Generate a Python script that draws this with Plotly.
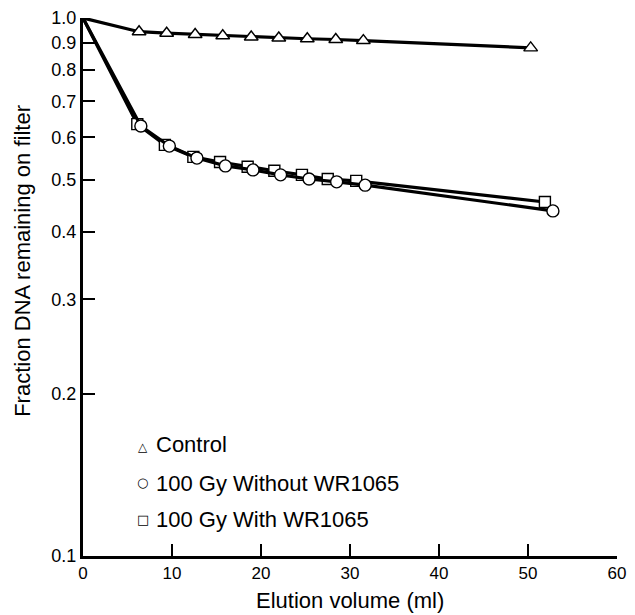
import plotly.graph_objects as go

# Elution profiles: fraction of DNA retained on the filter vs. elution volume
control_x = [0, 6.3, 9.4, 12.6, 15.7, 18.9, 22.0, 25.2, 28.4, 31.5, 50.3]
control_y = [1.0, 0.943, 0.937, 0.932, 0.927, 0.922, 0.918, 0.915, 0.912, 0.908, 0.880]

without_x = [0, 6.5, 9.7, 12.8, 16.0, 19.1, 22.2, 25.4, 28.5, 31.7, 52.8]
without_y = [1.0, 0.630, 0.578, 0.549, 0.531, 0.522, 0.511, 0.502, 0.496, 0.489, 0.438]

with_x = [0, 6.1, 9.2, 12.4, 15.4, 18.5, 21.5, 24.6, 27.5, 30.7, 51.9]
with_y = [1.0, 0.635, 0.581, 0.552, 0.540, 0.529, 0.520, 0.511, 0.502, 0.498, 0.455]

x_ticks = [0, 10, 20, 30, 40, 50, 60]
y_ticks = [0.1, 0.2, 0.3, 0.4, 0.5, 0.6, 0.7, 0.8, 0.9, 1.0]
y_labels = ["0.1", "0.2", "0.3", "0.4", "0.5", "0.6", "0.7", "0.8", "0.9", "1.0"]

legend_labels = ["Control", "100 Gy Without WR1065", "100 Gy With WR1065"]
legend_glyphs = ["\u25b3", "\u25cb", "\u25a1"]

FONT = "Liberation Sans, Arial, Helvetica, sans-serif"

fig = go.Figure()


def add_series(xs, ys, symbol, size):
    # line from the origin point, then open markers (white fill hides the line beneath)
    fig.add_trace(go.Scatter(
        x=xs, y=ys, mode="lines",
        line=dict(color="black", width=3.2),
        showlegend=False, hoverinfo="skip", cliponaxis=False,
    ))
    fig.add_trace(go.Scatter(
        x=xs[1:], y=ys[1:], mode="markers",
        marker=dict(symbol=symbol, size=size, color="white",
                    line=dict(color="black", width=1.4)),
        showlegend=False, cliponaxis=False,
    ))


add_series(with_x, with_y, "square", 11)
add_series(without_x, without_y, "circle", 12)
add_series(control_x, control_y, "triangle-up", 12)

# Key in the lower-left of the plotting area
legend_text_y = [0.208, 0.135, 0.068]
legend_glyph_y = [0.202, 0.136, 0.068]
legend_glyph_size = [12, 13, 13]
for glyph, label, ty, gy, gs in zip(legend_glyphs, legend_labels, legend_text_y,
                                    legend_glyph_y, legend_glyph_size):
    fig.add_annotation(
        xref="paper", yref="paper", x=0.112, y=gy, xanchor="center", yanchor="middle",
        text=glyph, showarrow=False,
        font=dict(family="DejaVu Sans", size=gs, color="black"),
    )
    fig.add_annotation(
        xref="paper", yref="paper", x=0.133, y=ty, xanchor="left", yanchor="middle",
        text=label, showarrow=False,
        font=dict(family=FONT, size=22, color="black"),
    )

# Axis titles
fig.add_annotation(
    xref="paper", yref="paper", x=-0.113, y=0.548, xanchor="center", yanchor="middle",
    text="Fraction DNA remaining on filter", textangle=-90, showarrow=False,
    font=dict(family=FONT, size=22, color="black"),
)
fig.add_annotation(
    xref="paper", yref="paper", x=0.5, y=-0.083, xanchor="center", yanchor="middle",
    text="Elution volume (ml)", showarrow=False,
    font=dict(family=FONT, size=22, color="black"),
)

fig.update_layout(
    width=635, height=615,
    margin=dict(l=83, r=18, t=18, b=59, autoexpand=False),
    paper_bgcolor="white", plot_bgcolor="white",
    font=dict(family=FONT, size=17, color="black"),
    xaxis=dict(
        range=[0, 60], tickvals=x_ticks, ticks="inside", ticklen=12, tickwidth=1.5,
        tickcolor="black", showline=True, linecolor="black", linewidth=3,
        showgrid=False, zeroline=False, automargin=False,
        tickfont=dict(size=17),
    ),
    yaxis=dict(
        type="log", range=[-1, 0], tickvals=y_ticks, ticktext=y_labels,
        ticks="inside", ticklen=12, tickwidth=1.5, tickcolor="black",
        showline=True, linecolor="black", linewidth=3,
        showgrid=False, zeroline=False, automargin=False,
        tickfont=dict(size=18),
    ),
)

fig.write_html("out.html")
